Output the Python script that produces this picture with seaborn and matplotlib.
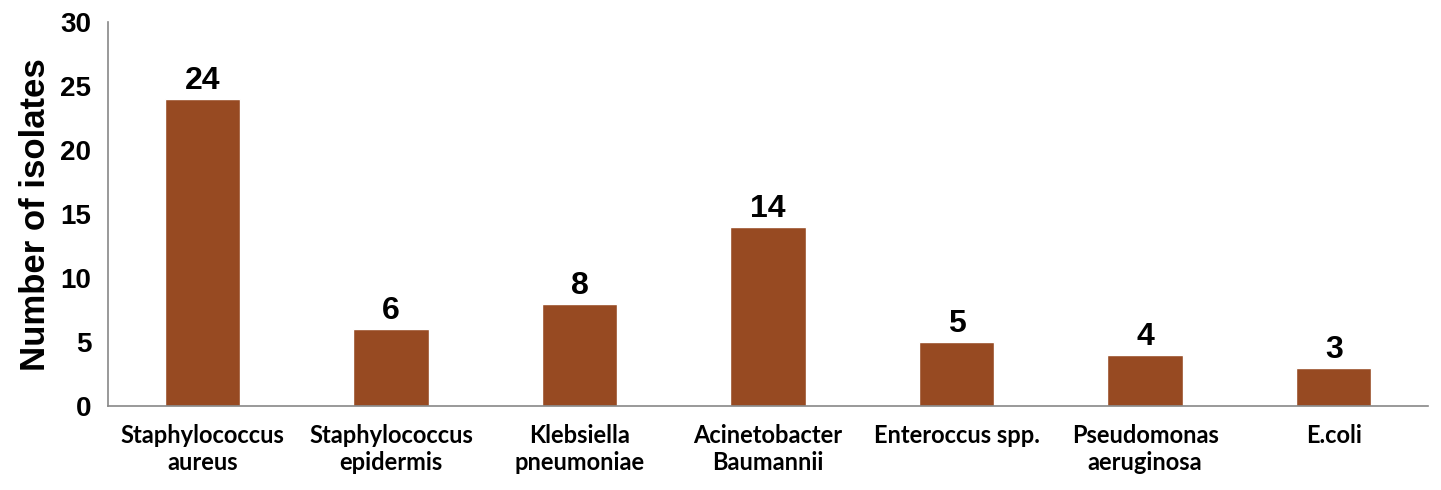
import numpy as np
import pandas as pd
import seaborn as sns
import matplotlib.pyplot as plt

species = ["Staphylococcus\naureus", "Staphylococcus\nepidermis", "Klebsiella\npneumoniae",
           "Acinetobacter\nBaumannii", "Enteroccus spp.", "Pseudomonas\naeruginosa", "E.coli"]
isolates = [24, 6, 8, 14, 5, 4, 3]

df = pd.DataFrame({"species": species, "isolates": isolates})

sns.set_style("white")
plt.rcParams['font.family'] = ['Liberation Sans', 'DejaVu Sans']
plt.rcParams['text.color'] = 'black'
plt.rcParams['axes.labelcolor'] = 'black'
plt.rcParams['xtick.labelcolor'] = 'black'
plt.rcParams['ytick.labelcolor'] = 'black'

fig = plt.figure(figsize=(14.41, 4.9), dpi=100)
ax = fig.add_axes([0.075, 0.171, 0.916, 0.784])

sns.barplot(data=df, x="species", y="isolates", color="#974A22", saturation=1,
            width=0.4, ax=ax)

for i, v in enumerate(isolates):
    ax.text(i, v + 0.25, str(v), ha="center", va="bottom", fontsize=23,
            fontweight="bold", color="black")

ax.set_ylim(0, 30)
ax.set_xlim(-0.5, len(species) - 0.5)
ax.set_yticks(range(0, 31, 5))
ax.set_xlabel("")
ax.set_ylabel("Number of isolates", fontsize=25, fontweight="bold", labelpad=6,
              color="black")

ax.set_xticks(np.arange(-0.5, len(species), 1), minor=True)
ax.tick_params(axis="x", which="major", length=0, pad=13)
ax.tick_params(axis="x", which="minor", length=8, width=1.2, color="#888888", direction="out")
ax.tick_params(axis="y", length=8, width=1.2, color="#888888", direction="out", pad=4)
for lab in ax.get_xticklabels():
    lab.set_fontfamily(["Lato", "DejaVu Sans"])
    lab.set_fontweight("bold")
    lab.set_fontsize(17)
    lab.set_color("black")
for lab in ax.get_yticklabels():
    lab.set_fontweight("bold")
    lab.set_fontsize(20)
    lab.set_color("black")

sns.despine(ax=ax, top=True, right=True)
for s in ["left", "bottom"]:
    ax.spines[s].set_color("#888888")
    ax.spines[s].set_linewidth(1.2)

fig.savefig("out.png", dpi=100)
